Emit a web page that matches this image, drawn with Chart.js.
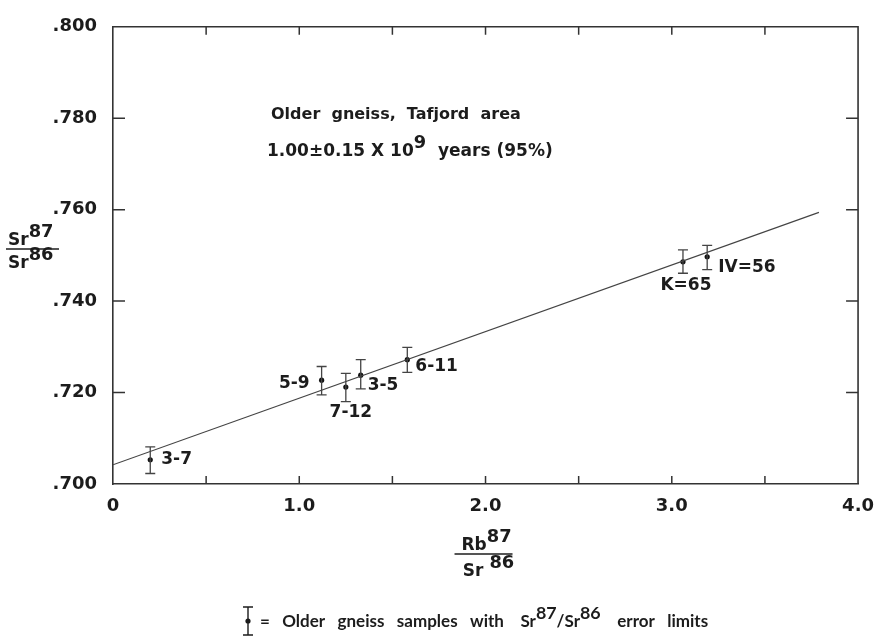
<!DOCTYPE html>
<html>
<head>
<meta charset="utf-8">
<script src="https://cdn.jsdelivr.net/npm/chart.js@4"></script>
<style>
  html, body { margin: 0; padding: 0; background: #fff; }
  #wrap { width: 886px; height: 637px; position: relative; }
</style>
</head>
<body>
<div id="wrap"><canvas id="isochron"></canvas></div>
<script>
// Sample names and measured ratios
const sampleLabels = ['3-7', '5-9', '7-12', '3-5', '6-11', 'K=65', 'IV=56'];
const rbSr = [0.20, 1.12, 1.25, 1.33, 1.58, 3.06, 3.19];
const srSr = [0.7053, 0.7227, 0.7212, 0.7238, 0.7272, 0.7486, 0.7497];
const srHigh = [0.7081, 0.7257, 0.7242, 0.7272, 0.7299, 0.7512, 0.7522];
const srLow = [0.7023, 0.7195, 0.7180, 0.7208, 0.7244, 0.7461, 0.7469];

// Isochron end points
const lineX = [0, 3.79];
const lineY = [0.7042, 0.7594];

// Axis ticks
const xTicks = [0, 0.5, 1.0, 1.5, 2.0, 2.5, 3.0, 3.5, 4.0];
const yTicks = [0.700, 0.720, 0.740, 0.760, 0.780, 0.800];

// where each sample label sits relative to its point (dx, dy, align)
const labelPlace = [
  [11, 0, 'left'], [-12, 3, 'right'], [5, 26, 'center'], [7, 10, 'left'],
  [8, 7, 'left'], [3, 24, 'center'], [11, 11, 'left']
];

const FONT = '"DejaVu Sans", sans-serif';
const NARROW = 'Lato, "DejaVu Sans", sans-serif';
const WEIGHT = '600';
const INK = '#1c1c1c';

// draw text with superscript parts, returns end x
function supText(ctx, parts, x, y, size, family, weight) {
  const fam = family || FONT;
  const wt = weight || WEIGHT;
  let cx = x;
  parts.forEach(p => {
    const sz = p.sup ? size * 1.05 : size;
    ctx.font = wt + ' ' + sz + 'px ' + fam;
    ctx.fillText(p.t, cx, p.sup ? y - size * 0.45 : y);
    cx += ctx.measureText(p.t).width;
  });
  return cx;
}
function partsWidth(ctx, parts, size) {
  let w = 0;
  parts.forEach(p => {
    ctx.font = WEIGHT + ' ' + (p.sup ? size * 1.05 : size) + 'px ' + FONT;
    w += ctx.measureText(p.t).width;
  });
  return w;
}

const decorPlugin = {
  id: 'decor',
  afterDatasetsDraw(chart) {
    const ctx = chart.ctx;
    const xs = chart.scales.x, ys = chart.scales.y;
    const a = chart.chartArea;
    ctx.save();
    ctx.strokeStyle = '#333';
    ctx.fillStyle = INK;

    // frame top and right
    ctx.lineWidth = 1.6;
    ctx.beginPath();
    ctx.moveTo(a.left, a.top); ctx.lineTo(a.right, a.top); ctx.lineTo(a.right, a.bottom);
    ctx.stroke();

    // inward tick marks on all four sides
    ctx.lineWidth = 1.5;
    xTicks.slice(1, -1).forEach(v => {
      const px = xs.getPixelForValue(v);
      ctx.beginPath();
      ctx.moveTo(px, a.bottom); ctx.lineTo(px, a.bottom - 8);
      ctx.moveTo(px, a.top); ctx.lineTo(px, a.top + 8);
      ctx.stroke();
    });
    yTicks.slice(1, -1).forEach(v => {
      const py = ys.getPixelForValue(v);
      ctx.beginPath();
      ctx.moveTo(a.left, py); ctx.lineTo(a.left + 12, py);
      ctx.moveTo(a.right, py); ctx.lineTo(a.right - 12, py);
      ctx.stroke();
    });

    // error bars
    ctx.lineWidth = 1.3;
    ctx.strokeStyle = '#444';
    rbSr.forEach((x, i) => {
      const px = xs.getPixelForValue(x);
      const top = ys.getPixelForValue(srHigh[i]);
      const bot = ys.getPixelForValue(srLow[i]);
      ctx.beginPath();
      ctx.moveTo(px, top); ctx.lineTo(px, bot);
      ctx.moveTo(px - 5, top); ctx.lineTo(px + 5, top);
      ctx.moveTo(px - 5, bot); ctx.lineTo(px + 5, bot);
      ctx.stroke();
    });

    // sample labels
    ctx.font = WEIGHT + ' 17px ' + FONT;
    ctx.textBaseline = 'middle';
    rbSr.forEach((x, i) => {
      const px = xs.getPixelForValue(x);
      const py = ys.getPixelForValue(srSr[i]);
      const pl = labelPlace[i];
      ctx.textAlign = pl[2];
      ctx.fillText(sampleLabels[i], px + pl[0], py + pl[1]);
    });

    // annotation text
    ctx.textAlign = 'left';
    ctx.textBaseline = 'alphabetic';
    ctx.font = WEIGHT + ' 16px ' + FONT;
    ctx.fillText('Older  gneiss,  Tafjord  area', 271, 119);
    supText(ctx, [{t: '1.00±0.15 X 10'}, {t: '9', sup: true}, {t: '  years (95%)'}], 267, 156, 17);

    // y title fraction
    const yNum = [{t: 'Sr'}, {t: '87', sup: true}];
    const yDen = [{t: 'Sr'}, {t: '86', sup: true}];
    supText(ctx, yNum, 8, 245, 17);
    supText(ctx, yDen, 8, 268, 17);
    ctx.lineWidth = 1.5;
    ctx.strokeStyle = INK;
    ctx.beginPath(); ctx.moveTo(6, 249); ctx.lineTo(59, 249); ctx.stroke();

    // x title fraction
    const cx = (a.left + a.right) / 2;
    const xNum = [{t: 'Rb'}, {t: '87', sup: true}];
    const xDen = [{t: 'Sr '}, {t: '86', sup: true}];
    supText(ctx, xNum, cx - partsWidth(ctx, xNum, 17) / 2 + 1, 550, 17);
    supText(ctx, xDen, cx - partsWidth(ctx, xDen, 17) / 2 + 3, 576, 17);
    ctx.beginPath(); ctx.moveTo(cx - 31, 554); ctx.lineTo(cx + 27, 554); ctx.stroke();

    // legend
    const lx = 248, ly = 621;
    ctx.lineWidth = 1.4;
    ctx.beginPath();
    ctx.moveTo(lx, ly - 14); ctx.lineTo(lx, ly + 14);
    ctx.moveTo(lx - 5, ly - 14); ctx.lineTo(lx + 5, ly - 14);
    ctx.moveTo(lx - 5, ly + 14); ctx.lineTo(lx + 5, ly + 14);
    ctx.stroke();
    ctx.beginPath(); ctx.arc(lx, ly, 2.6, 0, Math.PI * 2); ctx.fill();
    supText(ctx, [
      {t: '=   Older   gneiss   samples   with    Sr'}, {t: '87', sup: true},
      {t: '/Sr'}, {t: '86', sup: true}, {t: '    error   limits'}
    ], 260, 627, 17, NARROW, 'bold');

    ctx.restore();
  }
};

new Chart(document.getElementById('isochron'), {
  type: 'scatter',
  data: {
    datasets: [
      {
        type: 'line',
        data: lineX.map((x, i) => ({x: x, y: lineY[i]})),
        borderColor: '#444',
        borderWidth: 1.2,
        pointRadius: 0,
        fill: false
      },
      {
        data: rbSr.map((x, i) => ({x: x, y: srSr[i]})),
        backgroundColor: '#111',
        borderColor: '#111',
        pointRadius: 2.6,
        borderWidth: 0
      }
    ]
  },
  options: {
    responsive: true,
    maintainAspectRatio: false,
    animation: false,
    layout: { padding: { top: 13, right: 17, left: 0, bottom: 0 } },
    plugins: { legend: { display: false }, tooltip: { enabled: false } },
    scales: {
      x: {
        type: 'linear',
        min: 0, max: 4,
        afterFit: s => { s.height = 153; },
        afterBuildTicks: s => { s.ticks = xTicks.map(v => ({value: v})); },
        grid: { display: false, drawTicks: false },
        border: { display: true, color: '#333', width: 1.6 },
        ticks: {
          padding: 12,
          color: INK,
          maxRotation: 0,
          autoSkip: false,
          font: { family: FONT, size: 18, weight: WEIGHT },
          callback: v => (Number.isInteger(v) ? (v === 0 ? '0' : v.toFixed(1)) : '')
        }
      },
      y: {
        type: 'linear',
        min: 0.700, max: 0.800,
        afterFit: s => { s.width = 113; },
        afterBuildTicks: s => { s.ticks = yTicks.map(v => ({value: v})); },
        grid: { display: false, drawTicks: false },
        border: { display: true, color: '#333', width: 1.6 },
        ticks: {
          padding: 16,
          color: INK,
          autoSkip: false,
          font: { family: FONT, size: 18, weight: WEIGHT },
          callback: v => v.toFixed(3).replace(/^0/, '')
        }
      }
    }
  },
  plugins: [decorPlugin]
});
</script>
</body>
</html>
